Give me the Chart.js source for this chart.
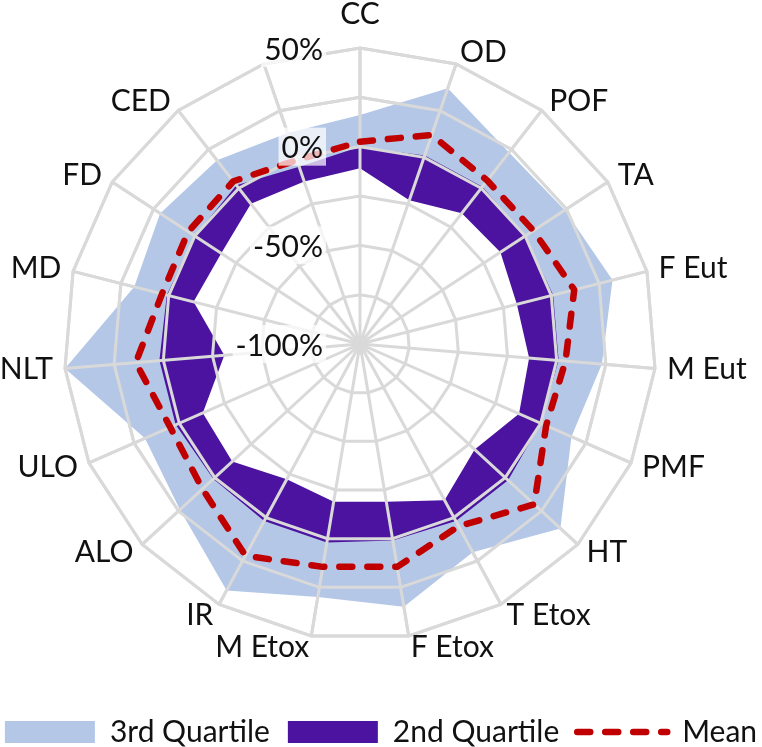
<!DOCTYPE html>
<html>
<head>
<meta charset="utf-8">
<script src="https://cdn.jsdelivr.net/npm/chart.js@4/dist/chart.umd.min.js"></script>
<style>
  html, body { margin: 0; padding: 0; background: #fff; }
  #wrap { width: 762px; height: 747px; }
</style>
</head>
<body>
<div id="wrap"><canvas id="radarChart" width="762" height="747"></canvas></div>
<script>
// impact categories (last spoke has no label in the original)
const categories = ['CC', 'OD', 'POF', 'TA', 'F Eut', 'M Eut', 'PMF', 'HT', 'T Etox', 'F Etox',
    'M Etox', 'IR', 'ALO', 'ULO', 'NLT', 'MD', 'FD', 'CED', ''];

// values in % change
const thirdQuartile  = [16, 37, 23, 24, 32, 23, 17, 38, 20, 35, 30, 42, 24, 19, 50, 18, 21, 18, 13];
const secondQuartile = [0, 1, 1, 0, 1, 1, 0, 2, 2, 1, 2, 2, 1, 2, 2, 1, 0, 2, -5];
const firstQuartile  = [-11, -23, -16, -15, -18, -14, -12, -21, -10, -19, -19, -22, -12, -13, -31, -13, -16, -10, -13];
const meanValues     = [2.5, 12, 5, 5, 12, 4.5, 3, 20, 5, 14.5, 14.5, 22, 8.5, 5, 14, 3.5, 4, 4.5, -1.5];

// axis
const axisMin = -100;
const axisMax = 50;
const gridStep = 25;
const tickLabels = [-100, -50, 0, 50];

const FONT = 'Lato, "Liberation Sans", sans-serif';
const TEXT = '#111';
const MEAN_INDEX = 2;

const overlay = {
    id: 'overlay',
    afterLayout: (chart) => {
        const r = chart.scales.r;
        r.xCenter = 360;
        r.yCenter = 344;
        r.drawingArea = 296;
    },
    beforeDatasetDraw: (chart, args) => {
        // gridlines sit on top of the filled bands but under the mean line
        if (args.index === MEAN_INDEX) chart.scales.r.drawGrid();
    },
    afterDatasetsDraw: (chart) => {
        const r = chart.scales.r;
        const ctx = chart.ctx;
        ctx.save();
        ctx.font = '30px ' + FONT;
        ctx.textBaseline = 'middle';

        // value labels, just left of the CC spoke
        ctx.textAlign = 'right';
        r.ticks.forEach(t => {
            if (!tickLabels.includes(t.value)) return;
            const text = t.value + '%';
            const y = r.yCenter - r.getDistanceFromCenterForValue(t.value);
            const x = r.xCenter - 37;
            const w = ctx.measureText(text).width;
            ctx.fillStyle = 'rgba(255,255,255,0.72)';
            ctx.fillRect(x - w - 3, y - 19, w + 6, 38);
            ctx.fillStyle = TEXT;
            ctx.fillText(text, x, y + 2);
        });

        // category labels
        ctx.fillStyle = TEXT;
        chart.data.labels.forEach((label, i) => {
            if (!label) return;
            const a = r.getIndexAngle(i);
            const p = r.getPointPosition(i, r.drawingArea + 12);
            const s = Math.sin(a);
            const c = Math.cos(a);
            ctx.textAlign = Math.abs(s) < 0.05 ? 'center' : (s > 0 ? 'left' : 'right');
            const y = c > 0.99 ? p.y - 22 : p.y;
            ctx.fillText(label, p.x, y);
        });
        ctx.restore();
    }
};

new Chart(document.getElementById('radarChart'), {
    type: 'radar',
    data: {
        labels: categories,
        datasets: [
            {
                label: '3rd Quartile',
                data: thirdQuartile,
                backgroundColor: '#b4c7e7',
                borderColor: 'transparent',
                borderWidth: 0,
                fill: 'start',
                order: 4
            },
            {
                label: '2nd Quartile',
                data: secondQuartile,
                backgroundColor: '#4b139f',
                borderColor: 'transparent',
                borderWidth: 0,
                fill: 'start',
                order: 3
            },
            {
                label: 'Mean',
                data: meanValues,
                borderColor: '#c00000',
                backgroundColor: 'transparent',
                borderWidth: 6.5,
                borderDash: [13, 15],
                borderCapStyle: 'round',
                borderJoinStyle: 'round',
                fill: false,
                order: 1
            },
            {
                label: '1st Quartile',
                data: firstQuartile,
                backgroundColor: '#ffffff',
                borderColor: 'transparent',
                borderWidth: 0,
                fill: 'start',
                order: 2
            }
        ]
    },
    options: {
        responsive: false,
        animation: false,
        devicePixelRatio: 1,
        // negative side padding gives the one-row legend enough room
        layout: { padding: { left: -20, right: -20, top: 0, bottom: -10 } },
        elements: {
            point: { radius: 0, hoverRadius: 0 },
            line: { tension: 0 }
        },
        scales: {
            r: {
                min: axisMin,
                max: axisMax,
                ticks: { stepSize: gridStep, display: false },
                grid: { color: '#d9d9d9', lineWidth: 3 },
                angleLines: { color: '#d9d9d9', lineWidth: 3 },
                pointLabels: { display: false }
            }
        },
        plugins: {
            tooltip: { enabled: false },
            legend: {
                position: 'bottom',
                labels: {
                    usePointStyle: true,
                    pointStyleWidth: 90,
                    boxHeight: 22,
                    padding: 18,
                    color: TEXT,
                    font: { family: FONT, size: 30 },
                    generateLabels: (chart) => chart.data.datasets
                        .map((ds, i) => ({ ds, i }))
                        .filter(({ ds }) => ds.label !== '1st Quartile')
                        .map(({ ds, i }) => ({
                            text: ds.label,
                            fillStyle: ds.fill ? ds.backgroundColor : 'transparent',
                            strokeStyle: ds.borderColor,
                            lineWidth: ds.fill ? 0 : 6.5,
                            lineDash: ds.borderDash || [],
                            lineCap: 'round',
                            pointStyle: ds.fill ? 'rect' : 'line',
                            fontColor: TEXT,
                            hidden: false,
                            datasetIndex: i
                        }))
                }
            }
        }
    },
    plugins: [overlay]
});
</script>
</body>
</html>
